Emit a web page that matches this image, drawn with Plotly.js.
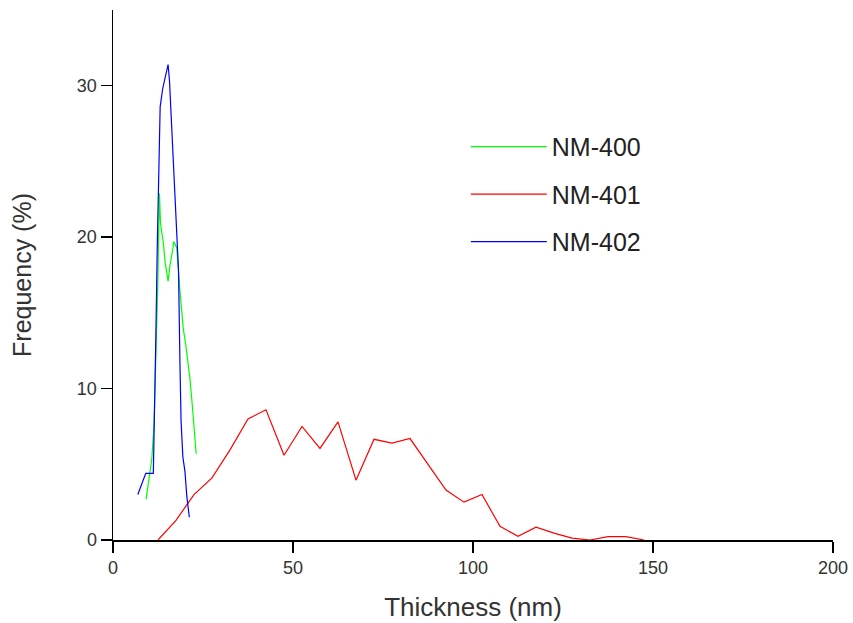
<!DOCTYPE html>
<html>
<head>
<meta charset="utf-8">
<script src="https://cdn.plot.ly/plotly-3.0.1.min.js"></script>
<style>html,body{margin:0;padding:0;background:#fff;}#chart{width:853px;height:623px;}</style>
</head>
<body>
<div id="chart"></div>
<script>
// NM-400 (green)
const x400 = [9.2, 10.3, 10.8, 11.4, 12.1, 12.4, 12.9, 13.2, 14.0, 14.5, 15.3, 15.8, 16.6, 16.9, 17.7, 18.1, 18.6, 19.1, 19.5, 20.2, 20.9, 21.4, 21.9, 22.3, 22.8, 23.1];
const y400 = [2.7, 4.8, 5.4, 7.7, 13.2, 16.5, 22.9, 20.9, 19.6, 18.3, 17.1, 18.1, 19.2, 19.7, 19.3, 17.7, 16.4, 15.1, 14.0, 12.9, 11.7, 10.6, 9.25, 7.9, 6.4, 5.7];
// NM-401 (red)
const x401 = [12.5, 17.5, 22.5, 27.5, 32.5, 37.5, 42.5, 47.5, 52.5, 57.5, 62.5, 67.5, 72.5, 77.5, 82.5, 87.5, 92.5, 97.5, 102.5, 107.5, 112.5, 117.5, 122.5, 127.5, 132.5, 137.5, 142.5, 147.5];
const y401 = [0, 1.3, 3.0, 4.1, 5.95, 8.0, 8.6, 5.6, 7.5, 6.05, 7.8, 3.95, 6.65, 6.4, 6.7, 5.0, 3.3, 2.5, 3.0, 0.9, 0.25, 0.85, 0.45, 0.12, 0, 0.22, 0.22, 0];
// NM-402 (blue)
const x402 = [6.9, 9.1, 11.2, 11.5, 11.9, 12.3, 12.8, 13.1, 13.8, 14.4, 14.9, 15.3, 15.7, 16.1, 16.4, 16.8, 17.4, 17.9, 18.2, 18.6, 18.9, 19.4, 20.0, 20.5, 21.2];
const y402 = [3.0, 4.4, 4.4, 7.5, 13.4, 19.4, 25.4, 28.6, 29.8, 30.5, 31.0, 31.4, 30.3, 28.2, 26.2, 24.1, 21.9, 19.2, 17.8, 11.6, 7.9, 5.5, 4.5, 2.9, 1.5];

const names = ['NM-400', 'NM-401', 'NM-402'];
const colors = ['#00ff00', '#ff0000', '#0000ff'];
const xs = [x400, x401, x402];
const ys = [y400, y401, y402];

const traces = names.map((n, i) => ({
  x: xs[i], y: ys[i], name: n, type: 'scatter', mode: 'lines',
  line: {color: colors[i], width: 1.2}, legendgroup: 'g' + i
}));

const font = 'Arial, "Liberation Sans", sans-serif';
const layout = {
  width: 853, height: 623,
  margin: {l: 113, r: 20, t: 10, b: 83},
  paper_bgcolor: '#fff', plot_bgcolor: '#fff',
  showlegend: true,
  legend: {x: 0.49, y: 0.785, xanchor: 'left', yanchor: 'top', bgcolor: 'rgba(0,0,0,0)',
    font: {family: font, size: 25, color: '#222'}, itemwidth: 76, tracegroupgap: 12},
  xaxis: {range: [0, 200], tickvals: [0, 50, 100, 150, 200], showgrid: false, zeroline: false,
    showline: true, linecolor: '#000', linewidth: 1.5, ticks: 'outside', ticklen: 11, tickwidth: 1.5, tickcolor: '#000',
    tickfont: {family: font, size: 18, color: '#333'},
    title: {text: 'Thickness (nm)', font: {family: font, size: 26, color: '#333'}, standoff: 20}},
  yaxis: {range: [0, 35], tickvals: [0, 10, 20, 30], showgrid: false, zeroline: false,
    showline: true, linecolor: '#000', linewidth: 1.5, ticks: 'outside', ticklen: 11, tickwidth: 1.5, tickcolor: '#000',
    tickfont: {family: font, size: 18, color: '#333'},
    title: {text: 'Frequency (%)', font: {family: font, size: 25, color: '#333'}, standoff: 38}}
};
Plotly.newPlot('chart', traces, layout, {displayModeBar: false, staticPlot: true});
</script>
</body>
</html>
